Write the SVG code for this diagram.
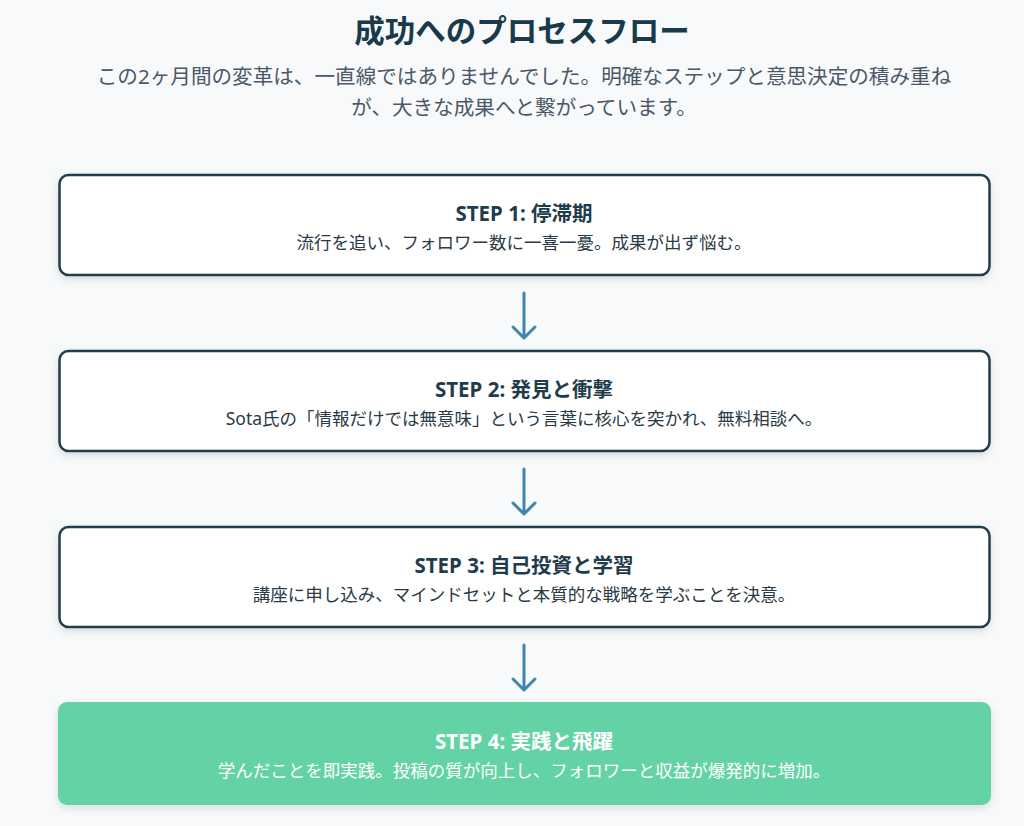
<svg xmlns="http://www.w3.org/2000/svg" width="1024" height="826" viewBox="0 0 1024 826">
<style>
.bg{fill:#f7f9fb}
.box{fill:#ffffff;stroke:#1f3c4d;stroke-width:2.5}
.boxg{fill:#63d3a5}
.h1{font-family:"Noto Sans","Noto Sans CJK JP",sans-serif;font-weight:700;font-size:30.5px;fill:#1a3a4a;text-anchor:middle}
.sub{font-family:"Noto Sans","Noto Sans CJK JP",sans-serif;font-size:20.6px;fill:#4a5868;text-anchor:middle}
.st{font-family:"Noto Sans","Noto Sans CJK JP",sans-serif;font-weight:700;font-size:20.5px;fill:#1f3c4d;text-anchor:middle}
.sd{font-family:"Noto Sans","Noto Sans CJK JP",sans-serif;font-size:17.5px;fill:#2a3a46;text-anchor:middle}
.w{fill:#ffffff}
.arr{stroke:#3d87ae;stroke-width:3;fill:none;stroke-linecap:round;stroke-linejoin:round}
</style>
<defs>
<filter id="sh" x="-5%" y="-20%" width="110%" height="150%">
<feDropShadow dx="0" dy="3" stdDeviation="4" flood-color="#000" flood-opacity="0.12"/>
</filter>
</defs>
<rect class="bg" x="0" y="0" width="1024" height="826"/>
<g id="header">
<text class="h1" x="522" y="42">成功へのプロセスフロー</text>
<text class="sub" x="524" y="84">この2ヶ月間の変革は、一直線ではありませんでした。明確なステップと意思決定の積み重ね</text>
<text class="sub" x="524" y="115">が、大きな成果へと繋がっています。</text>
</g>
<g id="connectors">
<g id="arrow1"><path class="arr" d="M524 293 V338 M513 327 L524 338 L535 327"/></g>
<g id="arrow2"><path class="arr" d="M524 469 V514 M513 503 L524 514 L535 503"/></g>
<g id="arrow3"><path class="arr" d="M524 645 V690 M513 679 L524 690 L535 679"/></g>
</g>
<g id="step1">
<rect class="box" x="59.5" y="175" width="930" height="100" rx="9" filter="url(#sh)"/>
<text class="st" x="524" y="221">STEP 1: 停滞期</text>
<text class="sd" x="524" y="249">流行を追い、フォロワー数に一喜一憂。成果が出ず悩む。</text>
</g>
<g id="step2">
<rect class="box" x="59.5" y="351" width="930" height="100" rx="9" filter="url(#sh)"/>
<text class="st" x="524" y="397">STEP 2: 発見と衝撃</text>
<text class="sd" x="524" y="425">Sota氏の「情報だけでは無意味」という言葉に核心を突かれ、無料相談へ。</text>
</g>
<g id="step3">
<rect class="box" x="59.5" y="527" width="930" height="100" rx="9" filter="url(#sh)"/>
<text class="st" x="524" y="573">STEP 3: 自己投資と学習</text>
<text class="sd" x="524" y="601">講座に申し込み、マインドセットと本質的な戦略を学ぶことを決意。</text>
</g>
<g id="step4">
<rect class="boxg" x="58" y="702" width="933" height="103" rx="9" filter="url(#sh)"/>
<text class="st w" x="524" y="749">STEP 4: 実践と飛躍</text>
<text class="sd w" x="524" y="777">学んだことを即実践。投稿の質が向上し、フォロワーと収益が爆発的に増加。</text>
</g>
</svg>
